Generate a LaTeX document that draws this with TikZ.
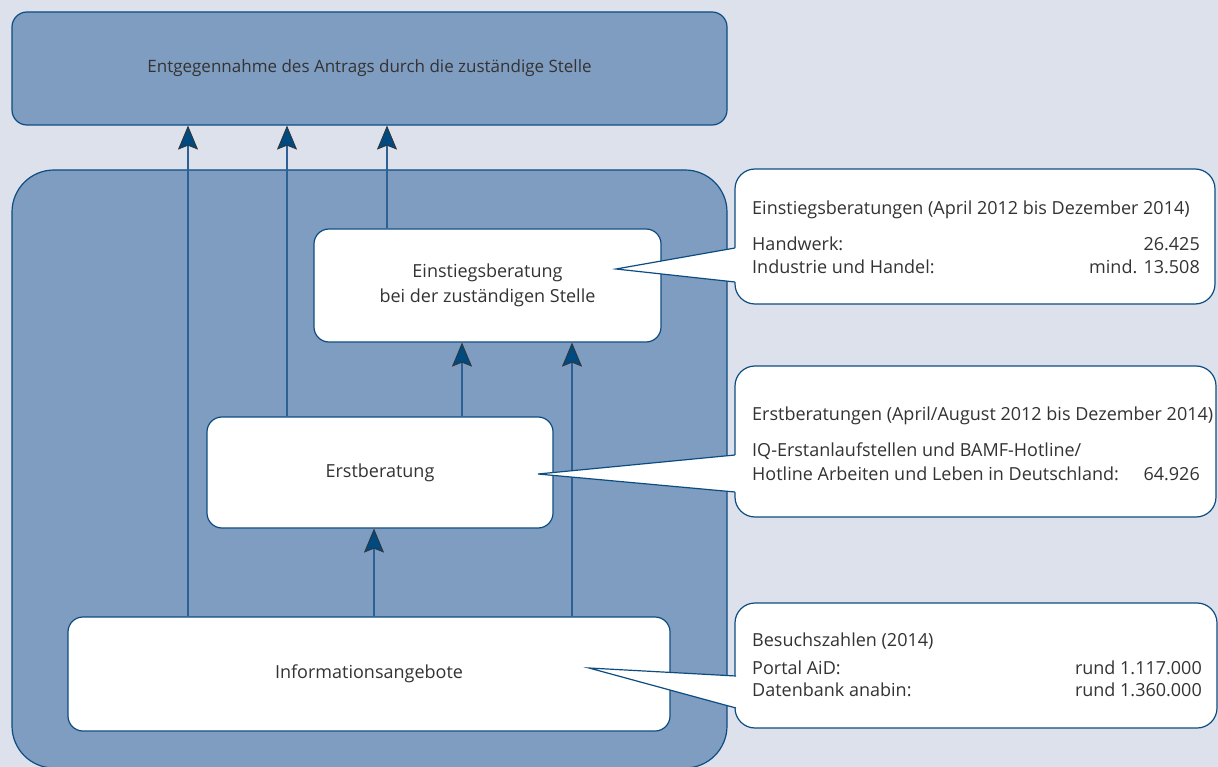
\documentclass[tikz,border=0pt]{standalone}
\usepackage{fontspec}
\setmainfont{Open Sans}
\usetikzlibrary{arrows.meta}

\definecolor{paleblue}{HTML}{DCE1EC}
\definecolor{midblue}{HTML}{7F9CC1}
\definecolor{rimblue}{HTML}{0D4C80}
\definecolor{shaftblue}{HTML}{2B6194}
\definecolor{headblue}{HTML}{004A80}
\definecolor{inkgrey}{HTML}{333333}

\begin{document}
\begin{tikzpicture}[x=1pt, y=-1pt,
  panel/.style={draw=rimblue, fill=midblue, line width=1.2pt,
                rounded corners=15pt, inner sep=0pt,
                font=\fontsize{17}{24}\selectfont, text=inkgrey},
  stage/.style={draw=rimblue, fill=white, line width=1.2pt,
                rounded corners=15pt, inner sep=0pt, align=center,
                font=\fontsize{18}{25}\selectfont, text=inkgrey},
  note/.style={draw=rimblue, fill=white, line width=1.2pt,
               rounded corners=20pt, inner sep=0pt},
  notetext/.style={anchor=base west, inner sep=0pt,
                   font=\fontsize{18}{23}\selectfont, text=inkgrey},
  numtext/.style={anchor=base east, inner sep=0pt,
                  font=\fontsize{18}{23}\selectfont, text=inkgrey},
  pointer/.style={draw=rimblue, line width=1.2pt},
  flow/.style={draw=shaftblue, line width=1.2pt,
    -{Stealth[length=24pt, width=20pt, inset=4pt, fill=headblue,
              color=black!80, line width=0.8pt]}}]
  \useasboundingbox (0,0) rectangle (1218,767);
  \fill[paleblue] (0,0) rectangle (1218,767);

  % boxes
  \node[panel, minimum width=715pt, minimum height=113pt] (goal) at (369.5,68.5)
    {Entgegennahme des Antrags durch die zuständige Stelle};
  \node[panel, rounded corners=42pt, minimum width=715pt,
        minimum height=598pt] (frame) at (369.5,469) {};
  \node[stage, minimum width=347pt, minimum height=113pt] (entry) at (487.5,285.5)
    {Einstiegsberatung\\bei der zuständigen Stelle};
  \node[stage, minimum width=346pt, minimum height=111pt] (first) at (380,472.5)
    {Erstberatung};
  \node[stage, minimum width=602pt, minimum height=114pt] (info) at (369,674)
    {Informationsangebote};

  % arrows
  \coordinate (a1) at (188,0);
  \coordinate (a2) at (287,0);
  \coordinate (a3) at (387,0);
  \coordinate (a4) at (462,0);
  \coordinate (a5) at (572,0);
  \coordinate (a6) at (374,0);
  \draw[flow] (info.north -| a1) -- (goal.south -| a1);
  \draw[flow] (first.north -| a2) -- (goal.south -| a2);
  \draw[flow] (entry.north -| a3) -- (goal.south -| a3);
  \draw[flow] (first.north -| a4) -- (entry.south -| a4);
  \draw[flow] (info.north -| a5) -- (entry.south -| a5);
  \draw[flow] (info.north -| a6) -- (first.south -| a6);

  % callouts
  \node[note, minimum width=480pt, minimum height=135pt] (n1) at (975,236.5) {};
  \coordinate (t1) at (616,269);
  \fill[white] (t1) -- (735,248) -- (745,248) -- (745,282) -- (735,282) -- cycle;
  \draw[pointer] (735,248) -- (t1) -- (735,282);
  \node[notetext] (h1) at (752,215)
    {Einstiegsberatungen (April 2012 bis Dezember 2014)};
  \node[notetext] (r1a) at (752,251) {Handwerk:};
  \node[numtext] (v1a) at (1200,251) {26.425};
  \node[notetext] (r1b) at (752,274) {Industrie und Handel:};
  \node[numtext] (v1b) at (1200,274) {mind. 13.508};

  \node[note, minimum width=481pt, minimum height=151pt] (n2) at (975.5,441.5) {};
  \coordinate (t2) at (538,474);
  \fill[white] (t2) -- (735,455) -- (745,455) -- (745,492) -- (735,492) -- cycle;
  \draw[pointer] (735,455) -- (t2) -- (735,492);
  \node[notetext] (h2) at (752,420)
    {Erstberatungen (April/August 2012 bis Dezember 2014)};
  \node[notetext] (r2a) at (752,456) {IQ-Erstanlaufstellen und BAMF-Hotline/};
  \node[notetext] (r2b) at (752,480) {Hotline Arbeiten und Leben in Deutschland:};
  \node[numtext] (v2b) at (1200,480) {64.926};

  \node[note, minimum width=482pt, minimum height=125pt] (n3) at (976,665.5) {};
  \coordinate (t3) at (589,668);
  \fill[white] (t3) -- (736,676) -- (746,676) -- (746,708) -- (736,708) -- cycle;
  \draw[pointer] (736,676) -- (t3) -- (736,708);
  \node[notetext] (h3) at (752,646) {Besuchszahlen (2014)};
  \node[notetext] (r3a) at (752,674) {Portal AiD:};
  \node[numtext] (v3a) at (1202,674) {rund 1.117.000};
  \node[notetext] (r3b) at (752,696) {Datenbank anabin:};
  \node[numtext] (v3b) at (1202,696) {rund 1.360.000};
\end{tikzpicture}
\end{document}
